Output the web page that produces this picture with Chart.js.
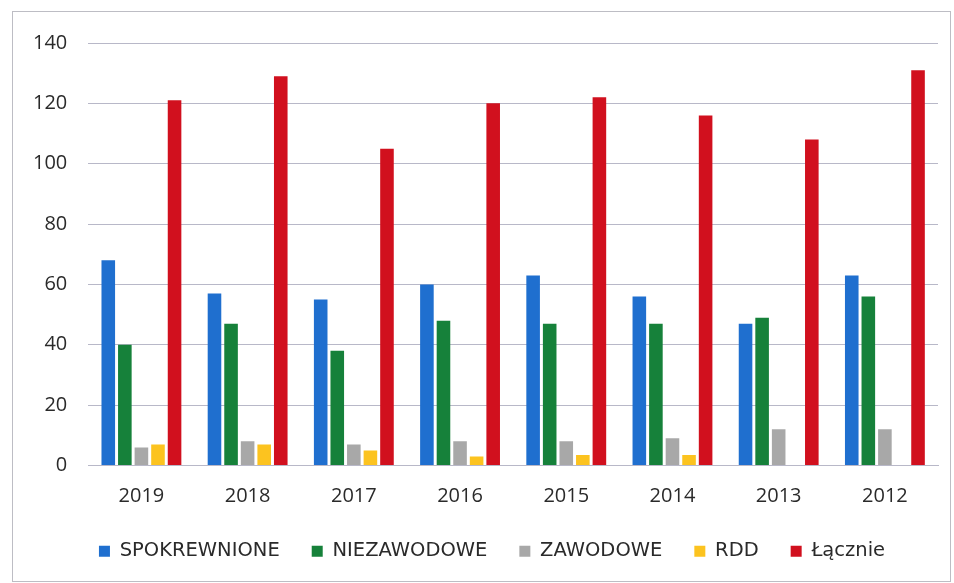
<!DOCTYPE html>
<html>
<head>
<meta charset="utf-8">
<script src="https://cdn.jsdelivr.net/npm/chart.js@4"></script>
<style>
  html, body { margin: 0; padding: 0; background: #fff; }
  #frame { position: absolute; left: 12px; top: 11px; width: 939px; height: 571px; border: 1px solid #bdbdc4; box-sizing: border-box; }
  #wrap { position: absolute; left: 0; top: 0; width: 954px; height: 583px; }
</style>
</head>
<body>
<div id="frame"></div>
<div id="wrap"><canvas id="chart"></canvas></div>
<script>
// categories and values
const years = ['2019', '2018', '2017', '2016', '2015', '2014', '2013', '2012'];
const spokrewnione = [68, 57, 55, 60, 63, 56, 47, 63];
const niezawodowe = [40, 47, 38, 48, 47, 47, 49, 56];
const zawodowe = [6, 8, 7, 8, 8, 9, 12, 12];
const rdd = [7, 7, 5, 3, 3.5, 3.5, 0, 0];
const lacznie = [121, 129, 105, 120, 122, 116, 108, 131];

const seriesNames = ['SPOKREWNIONE', 'NIEZAWODOWE', 'ZAWODOWE', 'RDD', 'Łącznie'];
const colors = ['#1f6fcf', '#16813a', '#a8a8a8', '#fcc31f', '#d1101e'];

// legend sits closer to the axis labels than chart.js would put it
const legendNudge = {
    id: 'legendNudge',
    afterInit(chart) {
        const lg = chart.legend;
        if (!lg) return;
        const fit = lg.fit;
        lg.fit = function () { fit.call(this); this.height += 2; };
    },
    afterLayout(chart) {
        const lg = chart.legend;
        if (!lg) return;
        lg.top -= 10; lg.bottom -= 10;
        lg.left += 17; lg.right += 17;
    }
};

const ctx = document.getElementById('chart').getContext('2d');
const chart = new Chart(ctx, {
    type: 'bar',
    data: {
        labels: years,
        datasets: [spokrewnione, niezawodowe, zawodowe, rdd, lacznie].map((d, i) => ({
            label: seriesNames[i],
            data: d,
            backgroundColor: colors[i],
            borderWidth: 0
        }))
    },
    options: {
        responsive: true,
        maintainAspectRatio: false,
        animation: false,
        layout: { padding: { left: 12, right: 16, top: 43, bottom: 0 } },
        datasets: { bar: { categoryPercentage: 0.78, barPercentage: 0.82 } },
        plugins: {
            tooltip: { enabled: false },
            legend: {
                position: 'bottom',
                labels: {
                    color: '#2a2a2a',
                    font: { family: 'DejaVu Sans', size: 19.5 },
                    boxWidth: 11,
                    boxHeight: 11,
                    padding: 32
                }
            }
        },
        scales: {
            x: {
                grid: { display: false },
                border: { color: '#b8b8c8' },
                ticks: { color: '#2a2a2a', font: { family: 'Open Sans', size: 20 }, padding: 11 }
            },
            y: {
                min: 0,
                max: 140,
                ticks: { stepSize: 20, color: '#2a2a2a', font: { family: 'Open Sans', size: 20 }, padding: 21 },
                grid: { color: '#b8b8c8', drawTicks: false },
                border: { display: false }
            }
        }
    },
    plugins: [legendNudge]
});
</script>
</body>
</html>
